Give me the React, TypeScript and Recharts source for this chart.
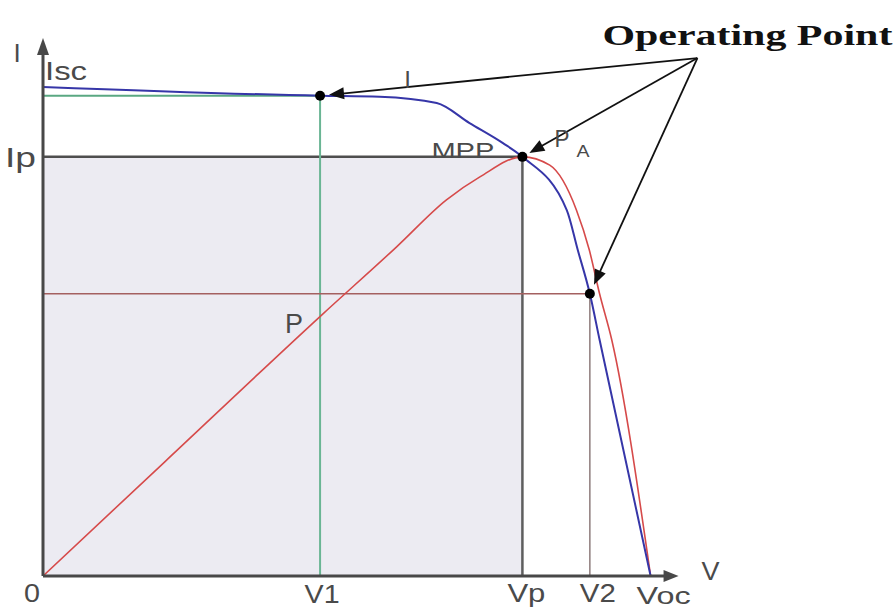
import React from "react";
import {
  ComposedChart,
  Line,
  XAxis,
  YAxis,
  ReferenceArea,
  ReferenceLine,
  ReferenceDot,
} from "recharts";

// Solar cell characteristic, current scaled so that Isc = 100 and Voc = 100
const ivVoltage = [0, 45.6, 55.4, 64.8, 70.2, 75.7, 78.9, 86.2, 88.0, 90.0, 91.6, 100];
const ivCurrent = [100, 98.2, 98.0, 96.7, 92.6, 88.5, 85.7, 74.8, 66.7, 57.7, 48.3, 0];

// power curve, scaled so its peak sits at Ip
const pvVoltage = [0, 20.0, 45.9, 58.2, 66.4, 71.9, 78.9, 83.4, 87.8, 89.9, 91.6, 93.6, 100];
const pvPower = [0, 23.3, 53.4, 67.3, 76.9, 81.6, 85.7, 84.0, 74.8, 66.7, 57.7, 48.3, 0];

// operating points
const V1 = 45.6;
const I1 = 98.2;
const VP = 78.9;
const IP = 85.7;
const V2 = 90.0;
const I2 = 57.7;
const VOC = 100;
const ISC = 100;

const xTicks = [0, V1, VP, V2, VOC];
const xTickNames = ["0", "V1", "Vp", "V2", "Voc"];
const yTicks = [IP, ISC];
const yTickNames = ["Ip", "Isc"];

// where the three annotation arrows start
const APEX = { x: 107.7, y: 105.9 };

const ivData = ivVoltage.map((v, i) => ({ v, i: ivCurrent[i] }));
const pvData = pvVoltage.map((v, i) => ({ v, p: pvPower[i] }));

const SANS = "'Liberation Sans', Arial, sans-serif";
const GREY = "#4a4a4a";

// line with a filled arrow head, optionally stopping short of its end point
const arrow = (gap: number, head = 15, half = 6) => (props: any) => {
  const { x1, y1, x2, y2, stroke, strokeWidth } = props;
  const dx = x2 - x1;
  const dy = y2 - y1;
  const len = Math.hypot(dx, dy) || 1;
  const ux = dx / len;
  const uy = dy / len;
  const tx = x2 - ux * gap;
  const ty = y2 - uy * gap;
  const bx = tx - ux * head;
  const by = ty - uy * head;
  return (
    <g>
      <line x1={x1} y1={y1} x2={bx + ux * 2} y2={by + uy * 2} stroke={stroke} strokeWidth={strokeWidth} />
      <polygon
        points={`${tx},${ty} ${bx - uy * half},${by + ux * half} ${bx + uy * half},${by - ux * half}`}
        fill={stroke}
      />
    </g>
  );
};

const label =
  (text: string, dx: number, dy: number, size: number, width?: number, anchor = "start") =>
  (props: any) => (
    <text
      x={props.cx + dx}
      y={props.cy + dy}
      fontFamily={SANS}
      fontSize={size}
      fill={GREY}
      textAnchor={anchor}
      textLength={width}
      lengthAdjust="spacingAndGlyphs"
    >
      {text}
    </text>
  );

const XTick = (props: any) => {
  const { x, y, payload } = props;
  const idx = xTicks.indexOf(payload.value);
  const name = xTickNames[idx];
  const shift: Record<string, [number, number, number, number]> = {
    "0": [-11, 26, 26, 16],
    V1: [2, 27, 26, 35],
    Vp: [4, 26, 26, 38],
    V2: [8, 26, 26, 36],
    Voc: [13, 28, 24, 54],
  };
  const [dx, dy, size, w] = shift[name];
  return (
    <text
      x={x + dx}
      y={y + dy}
      fontFamily={SANS}
      fontSize={size}
      fill={GREY}
      textAnchor="middle"
      textLength={w}
      lengthAdjust="spacingAndGlyphs"
    >
      {name}
    </text>
  );
};

const YTick = (props: any) => {
  const { x, y, payload } = props;
  const name = yTickNames[yTicks.indexOf(payload.value)];
  if (name === "Isc") {
    return (
      <text x={x + 2} y={y - 7} fontFamily={SANS} fontSize={25} fill={GREY} textLength={42} lengthAdjust="spacingAndGlyphs">
        {name}
      </text>
    );
  }
  return (
    <text x={x - 7} y={y + 10} fontFamily={SANS} fontSize={27} fill={GREY} textAnchor="end" textLength={31} lengthAdjust="spacingAndGlyphs">
      {name}
    </text>
  );
};

const operatingTitle = (props: any) => (
  <text
    x={props.cx + 50}
    y={props.cy - 13}
    fontFamily="'Liberation Serif', 'DejaVu Serif', serif"
    fontWeight="bold"
    fontSize={30}
    fill="#111"
    textAnchor="middle"
    textLength={290}
    lengthAdjust="spacingAndGlyphs"
  >
    Operating Point
  </text>
);

export default function App() {
  return (
    <div style={{ width: 894, height: 609, background: "#fff" }}>
      <style>{"body{margin:0}"}</style>
      <ComposedChart width={894} height={609} margin={{ top: 38, right: 213, bottom: 0, left: 0 }}>
        <XAxis
          type="number"
          dataKey="v"
          domain={[0, 105]}
          allowDataOverflow
          ticks={xTicks}
          interval={0}
          height={33}
          axisLine={false}
          tickLine={false}
          tickSize={0}
          tickMargin={0}
          tick={<XTick />}
        />
        <YAxis
          type="number"
          domain={[0, 110]}
          allowDataOverflow
          ticks={yTicks}
          interval={0}
          width={43}
          axisLine={false}
          tickLine={false}
          tickSize={0}
          tickMargin={0}
          tick={<YTick />}
        />

        {/* power rectangle at the MPP */}
        <ReferenceArea x1={0} x2={VP} y1={0} y2={IP} fill="#ecebf2" fillOpacity={1} stroke="none" />
        <ReferenceLine segment={[{ x: 0, y: IP }, { x: VP, y: IP }]} stroke="#4e4e4e" strokeWidth={2.5} />
        <ReferenceLine segment={[{ x: VP, y: 0 }, { x: VP, y: IP }]} stroke="#5e5e5e" strokeWidth={2.5} />

        {/* operating point at V1 */}
        <ReferenceLine segment={[{ x: 0, y: I1 }, { x: V1, y: I1 }]} stroke="#5aa882" strokeWidth={2} />
        <ReferenceLine segment={[{ x: V1, y: 0 }, { x: V1, y: I1 }]} stroke="#6ab594" strokeWidth={2} />

        {/* operating point at V2 */}
        <ReferenceLine segment={[{ x: 0, y: I2 }, { x: V2, y: I2 }]} stroke="#a46060" strokeWidth={1.5} />
        <ReferenceLine segment={[{ x: V2, y: 0 }, { x: V2, y: I2 }]} stroke="#8e7c7c" strokeWidth={1.5} />

        <Line
          data={pvData}
          dataKey="p"
          type="monotone"
          stroke="#d64a4a"
          strokeWidth={1.6}
          dot={false}
          isAnimationActive={false}
        />
        <Line
          data={ivData}
          dataKey="i"
          type="monotone"
          stroke="#3636a8"
          strokeWidth={2}
          dot={false}
          isAnimationActive={false}
        />

        {/* axes with arrow heads */}
        <ReferenceLine
          segment={[{ x: 0, y: 0 }, { x: 104.6, y: 0 }]}
          stroke="#484848"
          strokeWidth={3}
          ifOverflow="visible"
          shape={arrow(0, 15, 6)}
        />
        <ReferenceLine
          segment={[{ x: 0, y: 0 }, { x: 0, y: 110 }]}
          stroke="#484848"
          strokeWidth={3}
          ifOverflow="visible"
          shape={arrow(0, 17, 6)}
        />

        {/* annotation arrows */}
        <ReferenceLine segment={[APEX, { x: V1, y: I1 }]} stroke="#111" strokeWidth={1.8} ifOverflow="visible" shape={arrow(9)} />
        <ReferenceLine segment={[APEX, { x: VP, y: IP }]} stroke="#111" strokeWidth={1.8} ifOverflow="visible" shape={arrow(8)} />
        <ReferenceLine segment={[APEX, { x: V2, y: I2 }]} stroke="#111" strokeWidth={1.8} ifOverflow="visible" shape={arrow(10)} />

        <ReferenceDot x={V1} y={I1} r={5} fill="#000" stroke="none" />
        <ReferenceDot x={VP} y={IP} r={5} fill="#000" stroke="none" />
        <ReferenceDot x={V2} y={I2} r={5} fill="#000" stroke="none" />

        {/* text annotations */}
        <ReferenceDot x={APEX.x} y={APEX.y} r={0} ifOverflow="visible" shape={operatingTitle} />
        <ReferenceDot x={VP} y={IP} r={0} shape={label("MPP", -28, 1, 22, 63, "end")} />
        <ReferenceDot x={VP} y={IP} r={0} shape={label("P", 32, -10, 24, 15)} />
        <ReferenceDot x={VP} y={IP} r={0} shape={label("A", 54, 0, 16, 13)} />
        <ReferenceDot x={60} y={99.8} r={0} shape={label("I", 0, 0, 24, undefined, "middle")} />
        <ReferenceDot x={41.3} y={49.7} r={0} shape={label("P", 0, 0, 28, 18, "middle")} />
        <ReferenceDot x={0} y={110} r={0} ifOverflow="visible" shape={label("I", -26, 24, 26, undefined, "middle")} />
        <ReferenceDot x={104.6} y={0} r={0} ifOverflow="visible" shape={label("V", 23, 4, 25, 18)} />
      </ComposedChart>
    </div>
  );
}
